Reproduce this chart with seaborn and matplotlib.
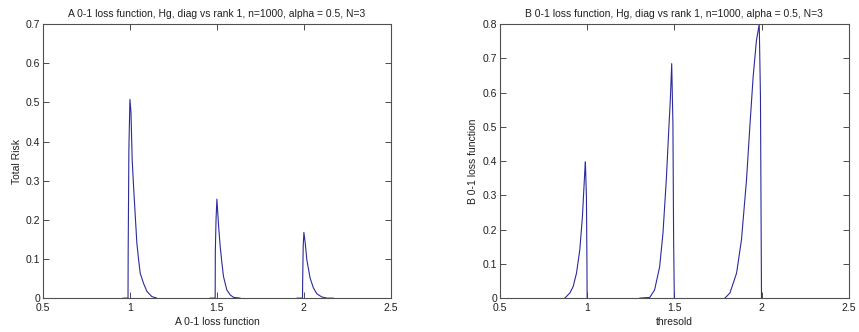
import matplotlib
matplotlib.use("Agg")
import matplotlib.pyplot as plt
import seaborn as sns
import pandas as pd

# ---- Data ----
# Left panel: A 0-1 loss function, three peaks
a_peak1_x = [0.960, 0.989, 0.990, 0.994, 1.000, 1.006, 1.013, 1.021, 1.031, 1.040, 1.050, 1.059, 1.078, 1.098, 1.126, 1.155]
a_peak1_y = [0.000, 0.000, 0.120, 0.380, 0.508, 0.476, 0.353, 0.285, 0.208, 0.140, 0.098, 0.064, 0.038, 0.017, 0.004, 0.000]
a_peak2_x = [1.460, 1.490, 1.491, 1.495, 1.500, 1.510, 1.519, 1.529, 1.538, 1.557, 1.577, 1.596, 1.634]
a_peak2_y = [0.000, 0.000, 0.120, 0.200, 0.253, 0.183, 0.132, 0.089, 0.055, 0.021, 0.008, 0.002, 0.000]
a_peak3_x = [1.960, 1.992, 1.993, 1.996, 2.000, 2.008, 2.017, 2.036, 2.055, 2.075, 2.103, 2.132, 2.170]
a_peak3_y = [0.000, 0.000, 0.040, 0.130, 0.168, 0.140, 0.098, 0.051, 0.026, 0.011, 0.003, 0.000, 0.000]

# Right panel: B 0-1 loss function, three peaks
b_peak1_x = [0.872, 0.901, 0.920, 0.939, 0.958, 0.973, 0.981, 0.987, 0.990, 0.996, 0.999, 1.000]
b_peak1_y = [0.000, 0.015, 0.034, 0.073, 0.141, 0.238, 0.316, 0.374, 0.398, 0.296, 0.097, 0.000]
b_peak2_x = [1.301, 1.359, 1.387, 1.416, 1.435, 1.454, 1.469, 1.477, 1.485, 1.492, 1.496, 1.500]
b_peak2_y = [0.000, 0.002, 0.024, 0.092, 0.190, 0.345, 0.500, 0.578, 0.685, 0.510, 0.170, 0.000]
b_peak3_x = [1.790, 1.819, 1.857, 1.885, 1.914, 1.933, 1.952, 1.971, 1.987, 1.994, 1.998, 2.000]
b_peak3_y = [0.000, 0.015, 0.073, 0.170, 0.345, 0.500, 0.646, 0.753, 0.800, 0.588, 0.190, 0.000]

x_ticks = [0.5, 1.0, 1.5, 2.0, 2.5]
x_tick_labels = ["0.5", "1", "1.5", "2", "2.5"]
a_y_ticks = [0, 0.1, 0.2, 0.3, 0.4, 0.5, 0.6, 0.7]
a_y_tick_labels = ["0", "0.1", "0.2", "0.3", "0.4", "0.5", "0.6", "0.7"]
b_y_ticks = [0, 0.1, 0.2, 0.3, 0.4, 0.5, 0.6, 0.7, 0.8]
b_y_tick_labels = ["0", "0.1", "0.2", "0.3", "0.4", "0.5", "0.6", "0.7", "0.8"]

title_a = "A 0-1 loss function, Hg, diag vs rank 1, n=1000, alpha = 0.5, N=3"
title_b = "B 0-1 loss function, Hg, diag vs rank 1, n=1000, alpha = 0.5, N=3"


def make_df(pairs):
    rows = []
    for gi, (xs, ys) in enumerate(pairs):
        for x, y in zip(xs, ys):
            rows.append({"x": x, "y": y, "peak": gi})
    return pd.DataFrame(rows)


df_a = make_df([(a_peak1_x, a_peak1_y), (a_peak2_x, a_peak2_y), (a_peak3_x, a_peak3_y)])
df_b = make_df([(b_peak1_x, b_peak1_y), (b_peak2_x, b_peak2_y), (b_peak3_x, b_peak3_y)])

sns.set_theme(style="white")
plt.rcParams["font.family"] = ["Liberation Sans", "DejaVu Sans"]

line_color = "#2b2b9c"
fs = 7.5

fig = plt.figure(figsize=(8.59, 3.32), dpi=100)
ax1 = fig.add_axes([0.050, 0.102, 0.405, 0.825])
ax2 = fig.add_axes([0.582, 0.102, 0.406, 0.825])


def style(ax, df, yticks, ylabels, ymax, title, xlabel, ylabel):
    sns.lineplot(data=df, x="x", y="y", units="peak", estimator=None, sort=False,
                 color=line_color, linewidth=0.8, ax=ax, legend=False)
    ax.set_xlim(0.5, 2.5)
    ax.set_ylim(0, ymax)
    ax.set_xticks(x_ticks)
    ax.set_xticklabels(x_tick_labels)
    ax.set_yticks(yticks)
    ax.set_yticklabels(ylabels)
    ax.tick_params(direction="in", length=4, width=0.6, color="#303030",
                   top=True, right=True, bottom=True, left=True,
                   labelsize=fs, labelcolor="#202020")
    ax.tick_params(axis="x", pad=3.5)
    ax.tick_params(axis="y", pad=2)
    for s in ax.spines.values():
        s.set_visible(True)
        s.set_color("#505050")
        s.set_linewidth(0.8)
    ax.set_title(title, fontsize=fs, pad=5, color="#202020")
    ax.set_xlabel(xlabel, fontsize=fs, labelpad=3, color="#202020")
    ax.set_ylabel(ylabel, fontsize=fs, labelpad=3, color="#202020")
    ax.grid(False)


style(ax1, df_a, a_y_ticks, a_y_tick_labels, 0.7, title_a, "A 0-1 loss function", "Total Risk")
style(ax2, df_b, b_y_ticks, b_y_tick_labels, 0.8, title_b, "thresold", "B 0-1 loss function")

fig.savefig("out.png", dpi=100, facecolor="white")
